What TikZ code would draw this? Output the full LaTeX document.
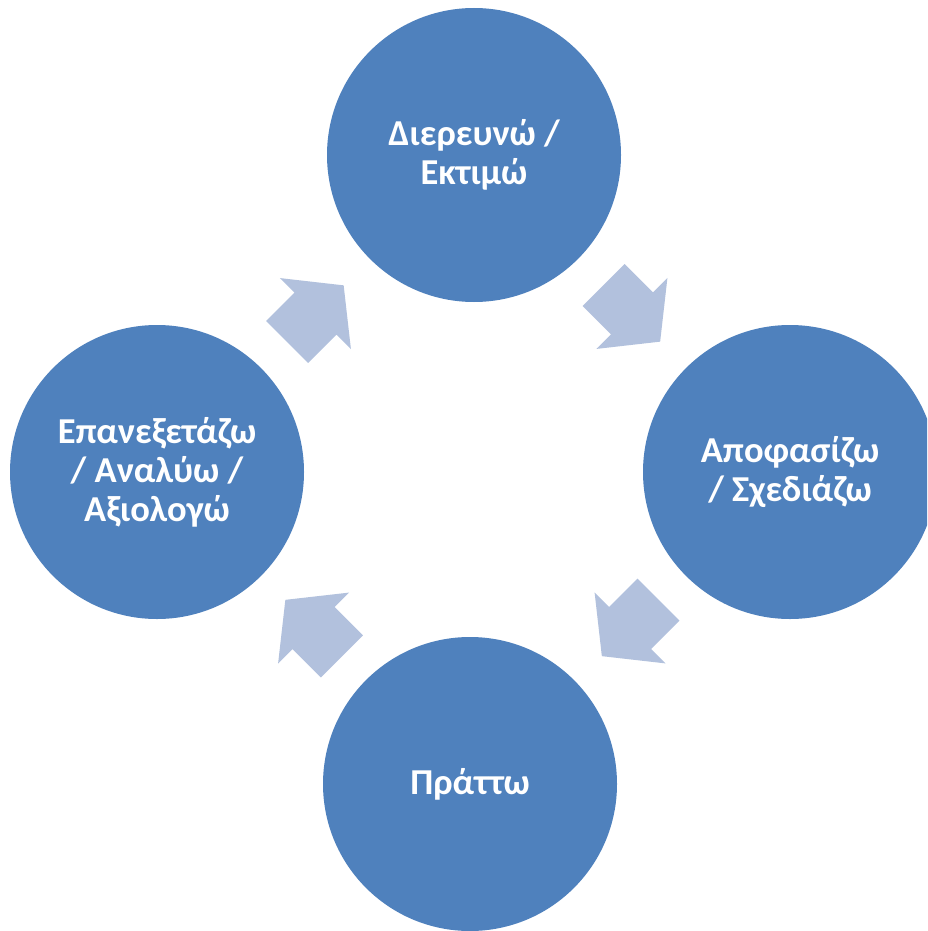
\documentclass[tikz,border=0pt]{standalone}
\usepackage{fontspec}
\setmainfont{Carlito}
\usetikzlibrary{shapes.arrows, calc}
\definecolor{circleblue}{RGB}{79,129,189}
\definecolor{arrowblue}{RGB}{178,193,221}
\tikzset{
    stagecircle/.style={circle, fill=circleblue, minimum size=294pt, inner sep=0pt, align=center, text=white, font=\fontsize{36.5}{39}\selectfont\bfseries},
    cyclearrow/.style={single arrow, fill=arrowblue, minimum height=80pt, inner xsep=0pt, inner ysep=29.5pt, single arrow head extend=20.5pt, single arrow tip angle=103}
}
\begin{document}
\begin{tikzpicture}[x=1pt, y=-1pt]

        % ================= CANVAS =================
        \fill[white] (0,0) rectangle (927,931);
        \useasboundingbox (0,0) rectangle (927,931);
        \clip (0,0) rectangle (927,931);

        % ================= STAGES =================
        \node[stagecircle] (explore) at (474,155) {Διερευνώ /\\Εκτιμώ};
        \node[stagecircle] (decide) at (790,472) {Αποφασίζω\\/ Σχεδιάζω};
        \node[stagecircle] (act) at (470,784) {Πράττω};
        \node[stagecircle] (review) at (157,472) {Επανεξετάζω\\/ Αναλύω /\\Αξιολογώ};

        % ================= ARROWS =================
        \node[cyclearrow, rotate=-45, xshift=-12pt] (toDecide) at ($(explore)!0.5!(decide)$) {};
        \node[cyclearrow, rotate=-135, xshift=-12pt] (toAct) at ($(decide)!0.5!(act)$) {};
        \node[cyclearrow, rotate=135, xshift=-12pt] (toReview) at ($(act)!0.5!(review)$) {};
        \node[cyclearrow, rotate=45, xshift=-12pt] (toExplore) at ($(review)!0.5!(explore)$) {};

\end{tikzpicture}
\end{document}
